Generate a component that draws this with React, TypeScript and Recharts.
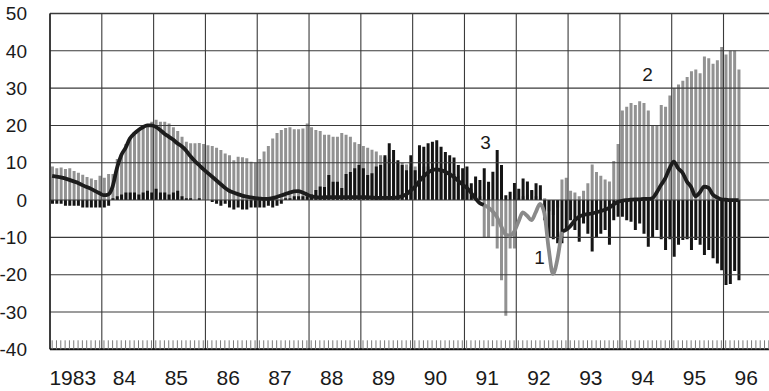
import React from "react";
import {
  ComposedChart,
  Bar,
  Line,
  XAxis,
  YAxis,
  ReferenceDot,
  ReferenceLine,
} from "recharts";

// monthly values, Jan 1983 .. Apr 1996
const yearLabels = ["1983", "84", "85", "86", "87", "88", "89", "90", "91", "92", "93", "94", "95", "96"];
const yTicks = [-40, -30, -20, -10, 0, 10, 20, 30, 40, 50];

// series 2 (light bars)
const series2 = [
  9, 8.5, 8.7, 8.3, 8.5, 7.8, 7.3, 6.8, 6.2, 5.8, 5.4, 6.5,
  6, 7, 7, 11, 12.5, 15, 16.5, 17.5, 18.8, 19.5, 20, 21,
  21.5, 21, 21, 20.5, 19.5, 18.5, 17, 15.6, 15.2, 15.2, 15.3, 15,
  14.7, 14.5, 14, 13.4, 12.5, 12, 10.7, 11.6, 11.5, 11.2, 10.3, 10,
  11, 13, 14.5, 16.5, 18, 18.8, 19.3, 19.5, 19, 19, 19.2, 20.5,
  19.5, 18.8, 18.5, 17.5, 17.5, 17, 17, 18, 17.5, 17, 15.5, 15,
  14.5, 14, 13.5, 13, 12, 11.5, 11, 10.5, 10, 10, 9.5, 9,
  9, 7, 9, 9, 8.5, 8.5, 8, 8, 7.5, 7, 6.5, 5.5,
  4, 3, 2, 1, -10, -10, -7, -13, -21.5, -31, -13, -13,
  0.5, 1, 1.5, 2.5, 1, 0.5, 0.5, -3, -4, -2, 5.5, 6,
  2.5, 2, 1, 2.5, 4.5, 9.5, 7.5, 6.5, 5.5, 5, 10.5, 15,
  24, 25, 26, 25.5, 26.5, 26, 24, 20, 20, 25.5, 25, 28,
  30, 31, 32, 33, 34.5, 35, 34, 38.5, 38, 36.5, 37.5, 41,
  39, 40, 40, 35,
];

// series 3 (dark bars)
const series3 = [
  -1, -1, -1, -1.5, -1.5, -1.5, -1.5, -2, -2, -2, -2, -2,
  -2, -1.5, 0.5, 1, 1.5, 2, 2, 2, 1.5, 2, 2.5, 2,
  3, 2, 2, 1.5, 2, 2.5, 1, 0.5, 0.5, 0, 0.5, 0,
  0, -0.5, -1, -1.5, -1, -2, -2.5, -2, -2.5, -2.5, -2, -2,
  -2, -2, -1.5, -2, -1.5, -1, 0.5, 0.5, 1, 1, 1, 1,
  1.5, 2.7, 3.6, 3.5, 6.7, 4.9, 4.9, 3.2, 7, 7.5, 8.5, 9.4,
  8.5, 6.7, 7.2, 9, 9.4, 12, 15.2, 13.4, 10.7, 9.4, 8, 12,
  8, 14.7, 14.3, 15.2, 15.6, 16, 14.3, 12.9, 12, 11.4, 9.4, 8.5,
  9, 4.5, 6.3, 5.4, 8.5, 4.9, 7.6, 13.4, 9.4, 1.3, 2.2, 4.6,
  3, 5.8, 5, 2.7, 4.5, 4, -5.4, -10.2, -10.5, -11.6, -11.6, -8,
  -5.4, -8, -11.2, -6.3, -9, -13.8, -10.2, -9, -8, -12, -5.4, -4.5,
  -4.5, -5.4, -5.8, -8, -6.3, -9, -12.5, -10.2, -8, -10.5, -13.4, -10.5,
  -15.2, -12, -10.7, -10.5, -13.4, -10.7, -12, -14.7, -13.4, -15.6, -17, -18.8,
  -22.8, -22.5, -19, -21.5,
];

// series 1 (thick line)
const series1 = [
  6.5, 6.3, 6.1, 5.8, 5.4, 5, 4.6, 4, 3.5, 3, 2.4, 1.8,
  1.3, 1.5, 3.6, 8.5, 12, 14, 16.5, 17.8, 18.8, 19.5, 20, 20,
  19.6, 18.8, 17.8, 17, 16.2, 15.2, 14.4, 13.3, 11.8, 10.5, 9.4, 8.3,
  7.3, 6.3, 5.3, 4.3, 3.3, 2.5, 2, 1.6, 1.2, 0.9, 0.7, 0.5,
  0.4, 0.3, 0.3, 0.5, 0.8, 1.2, 1.6, 2, 2.3, 2.4, 2, 1.5,
  1, 0.8, 0.7, 0.7, 0.8, 0.8, 0.8, 0.8, 0.8, 0.8, 0.8, 0.8,
  0.8, 0.7, 0.7, 0.6, 0.6, 0.6, 0.6, 0.6, 0.7, 1, 1.5, 2.5,
  3.5, 5, 6.3, 7.3, 8, 8.2, 8, 7.6, 7, 6.2, 5.2, 4.2,
  3.3, 2, 0.5, -0.8, -1.3, -2, -3, -4.5, -7, -9.2, -9.5, -8.5,
  -5.8, -3.3, -4.2, -5.4, -3.3, -1, -3.5, -13, -19.8, -16, -8.5, -8,
  -7, -5.5, -4.5, -4, -3.8, -3.6, -3.3, -3, -2.6, -2.1, -1.2, -0.5,
  -0.2, 0, 0.1, 0.2, 0.2, 0.3, 0.3, 0.5, 2, 4, 5.8, 8.5,
  10.3, 8.5, 7.3, 5, 3.5, 1, 2, 3.6, 3.3, 1.5, 0.7, 0.2,
  0.1, 0, 0, 0,
];

// months where series 1 is printed in grey
const series1GreyFrom = 100;
const series1GreyTo = 118;

// series numbers written on the chart (month, value)
const seriesMarks = [
  { text: "1", month: 113.4, value: -15.2 },
  { text: "2", month: 138.4, value: 33.8 },
  { text: "3", month: 100.9, value: 15.6 },
];

const totalMonths = 167;
const yearStarts = yearLabels.map((_, i) => i * 12);
const yearMids = yearLabels.map((_, i) => i * 12 + 5.5);

const rows = Array.from({ length: totalMonths }, (_, i) => {
  const v = series1[i];
  const inGrey = i >= series1GreyFrom && i <= series1GreyTo;
  const edge = i === series1GreyFrom || i === series1GreyTo;
  return {
    m: i,
    c: i + 0.5,
    s2: series2[i] ?? null,
    s3: series3[i] ?? null,
    dark: v === undefined ? null : !inGrey || edge ? v : null,
    grey: v === undefined ? null : inGrey ? v : null,
  };
});

const FONT = "'Liberation Sans', Arial, sans-serif";
const GRID = "#3a3a3a";

function YearTick(props: any) {
  const { x, y, payload } = props;
  const label = yearLabels[Math.floor(payload.value / 12)];
  return (
    <text x={x - 1} y={y + 36} textAnchor="middle" fontFamily={FONT} fontSize={21} fill="#1a1a1a">
      {label}
    </text>
  );
}

function ValueTick(props: any) {
  const { x, y, payload } = props;
  return (
    <text x={x} y={y + 6.7} textAnchor="end" fontFamily={FONT} fontSize={19} fill="#1a1a1a">
      {payload.value}
    </text>
  );
}

function NoLabel() {
  return <g />;
}

export default function App() {
  return (
    <div
      style={{
        position: "absolute",
        left: 0,
        top: 0,
        width: 769,
        height: 391,
        overflow: "hidden",
        background: "#fff",
      }}
    >
      <ComposedChart
        width={771}
        height={391}
        data={rows}
        margin={{ top: 13.5, right: 0, bottom: 0, left: 0 }}
        barSize={3}
        barGap={-3}
        barCategoryGap={0}
      >
        <XAxis
          dataKey="m"
          mirror
          height={1}
          interval={0}
          tick={<NoLabel />}
          tickSize={9}
          tickLine={{ stroke: "#7a7a7a", strokeWidth: 1 }}
          axisLine={{ stroke: "#111", strokeWidth: 2 }}
        />
        <XAxis
          xAxisId="yr"
          dataKey="c"
          type="number"
          domain={[0, totalMonths]}
          allowDataOverflow
          ticks={yearStarts}
          interval={0}
          hide
          height={0}
        />
        <XAxis
          xAxisId="lbl"
          dataKey="c"
          type="number"
          domain={[0, totalMonths]}
          allowDataOverflow
          ticks={yearMids}
          interval={0}
          height={41.7}
          axisLine={false}
          tickLine={false}
          tickSize={0}
          tickMargin={0}
          tick={<YearTick />}
        />
        <YAxis
          domain={[-40, 50]}
          ticks={yTicks}
          interval={0}
          allowDataOverflow
          width={50}
          tickSize={0}
          tickMargin={23}
          tickLine={false}
          axisLine={{ stroke: "#222", strokeWidth: 1.5 }}
          tick={<ValueTick />}
        />
        <Bar dataKey="s2" fill="#929292" isAnimationActive={false} />
        <Bar dataKey="s3" fill="#141414" isAnimationActive={false} />
        {yTicks.map((t) => (
          <ReferenceLine
            key={`h${t}`}
            y={t}
            stroke={GRID}
            strokeWidth={t === 50 ? 1.6 : 1.1}
          />
        ))}
        {yearStarts.map((t) => (
          <ReferenceLine key={`v${t}`} xAxisId="yr" x={t} stroke={GRID} strokeWidth={1.1} />
        ))}
        <Line
          dataKey="dark"
          type="monotone"
          stroke="#1c1c1c"
          strokeWidth={3.8}
          dot={false}
          activeDot={false}
          isAnimationActive={false}
        />
        <Line
          dataKey="grey"
          type="monotone"
          stroke="#8a8a8a"
          strokeWidth={3.8}
          dot={false}
          activeDot={false}
          isAnimationActive={false}
        />
        {seriesMarks.map((s) => (
          <ReferenceDot
            key={s.text}
            xAxisId="yr"
            x={s.month}
            y={s.value}
            r={0}
            stroke="none"
            label={{ value: s.text, position: "center", fill: "#1a1a1a", fontSize: 19, fontFamily: FONT }}
          />
        ))}
      </ComposedChart>
    </div>
  );
}
